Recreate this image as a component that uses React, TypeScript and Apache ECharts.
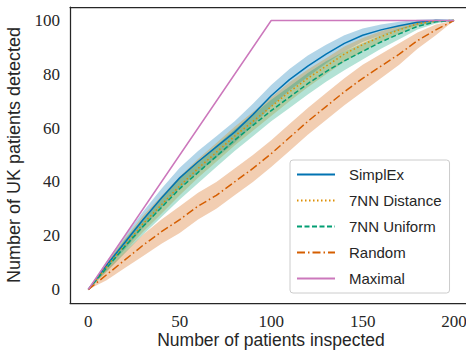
import React, { useEffect, useRef } from "react";
import * as echarts from "echarts";

const X = [0, 10, 20, 30, 40, 50, 60, 70, 80, 90, 100, 110, 120, 130, 140, 150, 160, 170, 180, 190, 200];
const simplex = [0, 9, 17.5, 26, 34, 41.5, 47.5, 53, 58.5, 65, 72, 78, 83, 87.5, 91.5, 94.5, 96.5, 98, 99.3, 100, 100];
const simplexBand = [0, 1.5, 2.5, 3, 3.5, 3.8, 4, 4, 4, 4, 4, 4, 4, 3.5, 3, 2.5, 2, 1.5, 1, 0.5, 0];
const distance = [0, 8.5, 16.5, 24.5, 31.5, 38.5, 45, 51, 57, 62.5, 68, 73.5, 78.5, 83, 87.5, 91, 94, 96.5, 98.8, 99.8, 100];
const distanceBand = [0, 1.5, 2.5, 3, 3.3, 3.5, 3.5, 3.5, 3.5, 3.5, 3.5, 3.5, 3.3, 3, 2.8, 2.5, 2, 1.5, 1, 0.5, 0];
const uniform = [0, 8, 16, 23.5, 30.5, 37.5, 43.5, 49.5, 55.5, 61, 66.5, 71.5, 76.5, 81, 85, 88.5, 92, 95, 97.8, 99.5, 100];
const uniformBand = [0, 1.5, 2.5, 3, 3.5, 4, 4, 4, 4, 4, 4, 4, 4, 3.8, 3.5, 3, 2.5, 2, 1.2, 0.6, 0];
const random = [0, 5.5, 11, 16.5, 21.5, 26, 31, 35, 40, 45, 50.5, 56.5, 62.5, 68, 73.5, 78.5, 83, 87.5, 92.5, 96.5, 100];
const randomBand = [0, 2, 3, 4, 4.5, 5, 5, 5, 5, 5, 5, 5, 5, 5, 5, 5, 4.5, 4, 3, 2, 0];
const maximalX = [0, 100, 200];
const maximal = [0, 100, 100];
const xTicks = [0, 50, 100, 150, 200];
const yTicks = [0, 20, 40, 60, 80, 100];
const xTitle = "Number of patients inspected";
const yTitle = "Number of UK patients detected";

const names = ["SimplEx", "7NN Distance", "7NN Uniform", "Random", "Maximal"];
const colors = ["#0173b2", "#de8f05", "#029e73", "#d55e00", "#cc78bc"];
const TEXT = "#262626";
const SANS = "'Liberation Sans', 'DejaVu Sans', sans-serif";
const SERIF = "'Liberation Serif', 'DejaVu Serif', serif";

function bandSeries(mid: number[], half: number[], color: string) {
  return {
    type: "custom",
    silent: true,
    z: 1,
    data: [[0, 0]],
    renderItem: (_p: any, api: any) => {
      const upper = X.map((x, i) => api.coord([x, mid[i] + half[i]]));
      const lower = X.map((x, i) => api.coord([x, mid[i] - half[i]])).reverse();
      return {
        type: "polygon",
        shape: { points: upper.concat(lower) },
        style: { fill: color, opacity: 0.3 },
      };
    },
  };
}

function lineSeries(name: string, ys: number[], xs: number[], color: string, type: any) {
  return {
    name,
    type: "line",
    z: 3,
    showSymbol: false,
    symbol: "none",
    data: xs.map((x, i) => [x, ys[i]]),
    lineStyle: { color, width: 1.5, type },
    itemStyle: { color },
  };
}

export default function App() {
  const ref = useRef<HTMLDivElement>(null);
  useEffect(() => {
    const chart = echarts.init(ref.current!, undefined, { renderer: "svg" });
    chart.setOption({
      animation: false,
      backgroundColor: "#ffffff",
      grid: { left: 70, top: 7, right: 0, bottom: 49, outerBoundsMode: "none", containLabel: false },
      graphic: [
        {
          type: "text",
          x: 271,
          y: 340,
          style: {
            text: xTitle,
            fill: TEXT,
            fontFamily: SANS,
            fontSize: 17.5,
            textAlign: "center",
            textVerticalAlign: "middle",
          },
        },
      ],
      xAxis: [
        {
          type: "value",
          min: -10,
          max: 206.5,
          splitLine: { show: false },
          axisTick: { show: false },
          axisLine: { show: true, onZero: false, lineStyle: { color: TEXT, width: 1.25 } },
          axisLabel: {
            customValues: xTicks,
            color: TEXT,
            fontFamily: SERIF,
            fontSize: 17,
            margin: 10,
          },
        },
        {
          type: "value",
          position: "top",
          min: -10,
          max: 206.5,
          splitLine: { show: false },
          axisTick: { show: false },
          axisLabel: { show: false },
          axisLine: { show: true, onZero: false, lineStyle: { color: TEXT, width: 1.25 } },
        },
      ],
      yAxis: {
        type: "value",
        min: -5,
        max: 105,
        splitLine: { show: false },
        axisTick: { show: false },
        axisLine: { show: true, onZero: false, lineStyle: { color: TEXT, width: 1.25 } },
        axisLabel: {
          customValues: yTicks,
          color: TEXT,
          fontFamily: SERIF,
          fontSize: 17,
          margin: 10,
        },
        name: yTitle,
        nameLocation: "middle",
        nameGap: 47,
        nameTextStyle: { color: TEXT, fontFamily: SANS, fontSize: 18 },
      },
      legend: {
        data: names.map((n) => ({ name: n, itemStyle: { opacity: 0 } })),
        orient: "vertical",
        left: 290,
        top: 160,
        padding: [7, 8, 7, 6],
        itemWidth: 38,
        itemHeight: 14,
        itemGap: 11,
        backgroundColor: "rgba(255,255,255,0.85)",
        borderColor: "#cccccc",
        borderWidth: 1,
        borderRadius: 3,
        textStyle: { color: TEXT, fontFamily: SANS, fontSize: 15, padding: [0, 0, 0, 9] },
      },
      series: [
        bandSeries(simplex, simplexBand, colors[0]),
        bandSeries(distance, distanceBand, colors[1]),
        bandSeries(uniform, uniformBand, colors[2]),
        bandSeries(random, randomBand, colors[3]),
        lineSeries(names[0], simplex, X, colors[0], "solid"),
        lineSeries(names[1], distance, X, colors[1], [1.5, 2.5]),
        lineSeries(names[2], uniform, X, colors[2], [5, 2.5]),
        lineSeries(names[3], random, X, colors[3], [8, 3, 1.5, 3]),
        lineSeries(names[4], maximal, maximalX, colors[4], "solid"),
      ],
    });
    return () => chart.dispose();
  }, []);
  return (
    <div
      ref={ref}
      style={{ position: "fixed", left: 0, top: 0, width: 466, height: 352 }}
    />
  );
}
